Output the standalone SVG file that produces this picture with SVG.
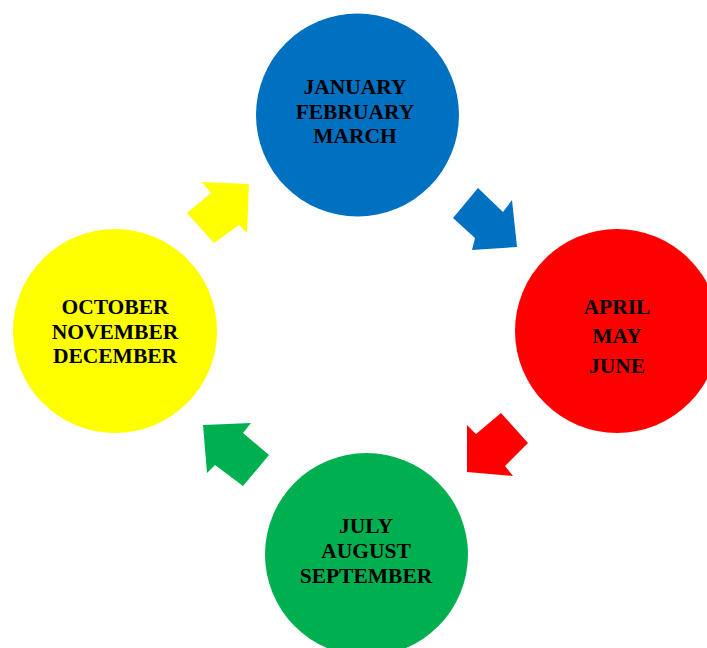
<svg xmlns="http://www.w3.org/2000/svg" width="707" height="648" viewBox="0 0 707 648">
<style>
.lbl{font-family:"Liberation Serif","Times New Roman",serif;font-weight:bold;font-size:21.5px;fill:#000;text-anchor:middle}
</style>
<rect width="707" height="648" fill="#fff"/>
<g id="connectors">
<polygon points="249,184 247,233 239,225 214,243 187,213 211,193 202,182" fill="#FFFF00"/>
<polygon points="478,188 503,212 512,200 517,247 472,250 475,238 453,218" fill="#0070C0"/>
<polygon points="501,413 528,443 505,466 513,476 467,472 467,425 476,434" fill="#FF0000"/>
<polygon points="203,425 251,423 243,433 269,455 243,486 215,465 207,473" fill="#00B050"/>
</g>
<g id="q1">
<circle cx="357.5" cy="115" r="101.5" fill="#0070C0"/>
<text class="lbl" x="355" y="94">JANUARY</text>
<text class="lbl" x="355" y="119">FEBRUARY</text>
<text class="lbl" x="355" y="143">MARCH</text>
</g>
<g id="q2">
<circle cx="617" cy="331" r="102" fill="#FF0000"/>
<text class="lbl" x="617" y="314">APRIL</text>
<text class="lbl" x="617" y="343">MAY</text>
<text class="lbl" x="617" y="373">JUNE</text>
</g>
<g id="q3">
<circle cx="366.5" cy="554.5" r="101.5" fill="#00B050"/>
<text class="lbl" x="366" y="533">JULY</text>
<text class="lbl" x="366" y="558">AUGUST</text>
<text class="lbl" x="366" y="583">SEPTEMBER</text>
</g>
<g id="q4">
<circle cx="115" cy="331" r="102" fill="#FFFF00"/>
<text class="lbl" x="115" y="314">OCTOBER</text>
<text class="lbl" x="115" y="339">NOVEMBER</text>
<text class="lbl" x="115" y="363">DECEMBER</text>
</g>
</svg>
